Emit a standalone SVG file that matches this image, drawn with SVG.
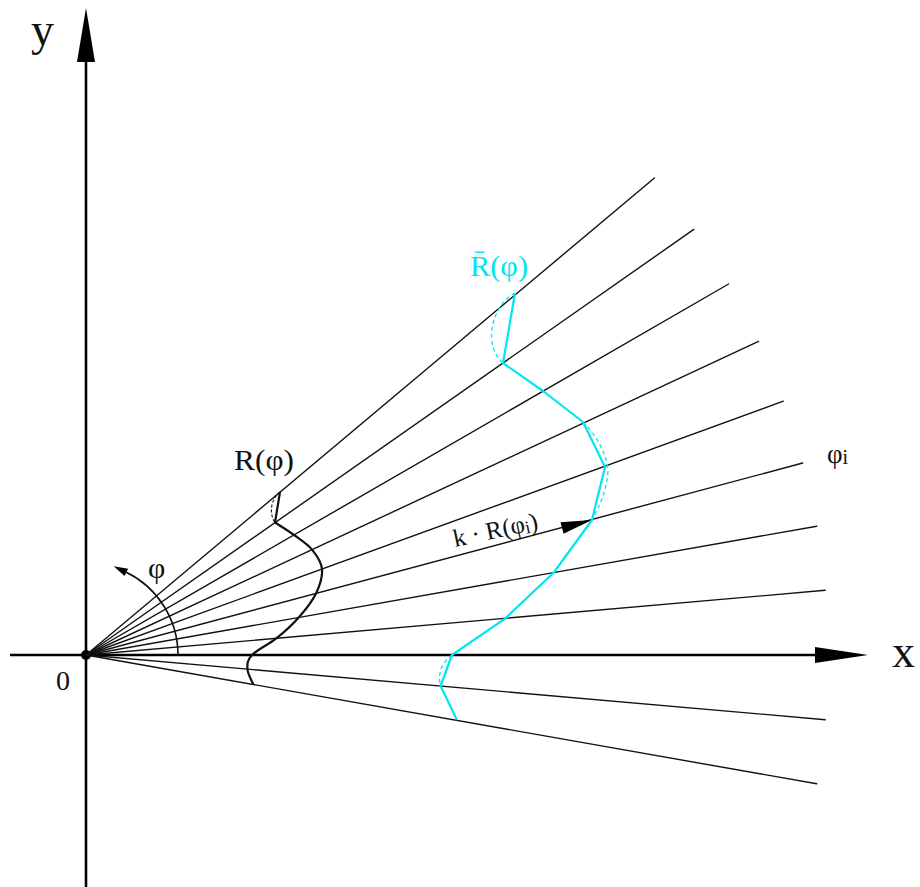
<svg xmlns="http://www.w3.org/2000/svg" width="920" height="887" viewBox="0 0 920 887">
<style>
.ray{stroke:#111;stroke-width:1.4;fill:none;stroke-linecap:round}
.axis{stroke:#000;stroke-width:2.6;fill:none}
.lbl{font-family:"Liberation Serif","DejaVu Serif",serif;fill:#111}
.cy{stroke:#00e6f0;fill:none;stroke-width:2.2;stroke-linejoin:round}
.cyd{stroke:#00e6f0;fill:none;stroke-width:1.3;stroke-dasharray:4 3}
.bk{stroke:#111;fill:none;stroke-width:2.2;stroke-linejoin:round}
.bkd{stroke:#111;fill:none;stroke-width:1.1;stroke-dasharray:3 2}
</style>
<rect width="920" height="887" fill="#fff"/>
<g id="axes">
<line class="axis" x1="10" y1="655" x2="820" y2="655"/>
<polygon points="868,655 815,647 815,663" fill="#000"/>
<line class="axis" x1="86" y1="887" x2="86" y2="55"/>
<polygon points="86,8 77,62 95,62" fill="#000"/>
<circle cx="86" cy="655" r="5" fill="#000"/>
</g>
<g id="connectors">
<line class="ray" x1="86" y1="655" x2="654.4" y2="178"/>
<line class="ray" x1="86" y1="655" x2="693.8" y2="229.4"/>
<line class="ray" x1="86" y1="655" x2="728.6" y2="284"/>
<line class="ray" x1="86" y1="655" x2="758.5" y2="341.4"/>
<line class="ray" x1="86" y1="655" x2="783.3" y2="401.2"/>
<line class="ray" x1="86" y1="655" x2="802.7" y2="463"/>
<line class="ray" x1="86" y1="655" x2="816.7" y2="526.2"/>
<line class="ray" x1="86" y1="655" x2="825.2" y2="590.3"/>
<line class="ray" x1="86" y1="655" x2="825.2" y2="719.7"/>
<line class="ray" x1="86" y1="655" x2="816.7" y2="783.8"/>
<polygon points="592,520 563.6,533.8 560.5,522.2" fill="#000"/>
<path d="M178,655 A92,92 0 0 0 126.3,572.3" stroke="#111" stroke-width="1.6" fill="none"/>
<polygon points="113.7,566.2 128.1,568.7 124.5,575.9" fill="#000"/>
</g>
<g id="curve-R">
<path class="bk" d="M280,492 L275,522.5 C278.2,524.6 287.8,530.5 294,535 C300.2,539.5 307.3,543.9 312,549.6 C316.7,555.3 321.3,561.7 322,569 C322.7,576.3 319.9,585.3 316,593.4 C312.1,601.5 305.3,610 298.7,617.5 C292.1,625 284.1,632.2 276.3,638.4 C268.5,644.6 256.8,649.9 252,655 C247.2,660.1 247.2,664.1 247.4,669 C247.6,673.9 252.4,681.9 253.4,684.5"/>
<path class="bkd" d="M280,492 C272,498 268,512 275,522.5"/>
</g>
<g id="curve-Rbar">
<polyline class="cy" points="515,293 503,363 543,391 583,422 605,467 592,520 553.8,572.5 505.4,618.3 452,655 440.6,686 457,720"/>
<path class="cyd" d="M515,293 C492,305 482,345 503,363"/>
<path class="cyd" d="M583,422 C596,435 606,452 608,470 C607,490 600,505 592,520"/>
<path class="cyd" d="M452,655 C443,662 437,672 440.6,686"/>
</g>
<g id="labels">
<text class="lbl" x="31" y="45" font-size="46">y</text>
<text class="lbl" x="892" y="667" font-size="46">x</text>
<text class="lbl" x="56" y="690" font-size="28">0</text>
<text class="lbl" x="148" y="578" font-size="30">φ</text>
<text class="lbl" x="234" y="470" font-size="30" textLength="60" lengthAdjust="spacingAndGlyphs">R(φ)</text>
<text class="lbl" x="470" y="276" font-size="30" textLength="58" lengthAdjust="spacingAndGlyphs" style="fill:#00e6f0">R̄(φ)</text>
<text class="lbl" x="827" y="463" font-size="27">φ<tspan font-size="20" dy="1">i</tspan></text>
<text class="lbl" font-size="25" transform="translate(455,547) rotate(-12)">k · R(φ<tspan font-size="18" dy="2">i</tspan><tspan dy="-2">)</tspan></text>
</g>
</svg>
